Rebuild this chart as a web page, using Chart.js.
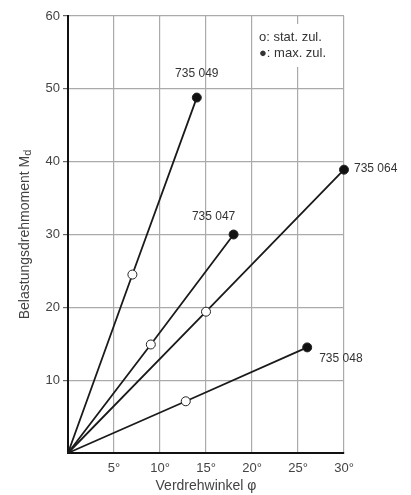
<!DOCTYPE html>
<html>
<head>
<meta charset="utf-8">
<script src="https://cdn.jsdelivr.net/npm/chart.js@4/dist/chart.umd.min.js"></script>
<style>
  html, body { margin: 0; padding: 0; background: #fff; }
  #wrap { width: 411px; height: 495px; }
</style>
</head>
<body>
<div id="wrap"><canvas id="chart" width="411" height="495"></canvas></div>
<script>
// torsion curves: line from origin through stat. (open) to max. (filled) point
const seriesNames = ['735 049', '735 047', '735 064', '735 048'];
const statX = [7, 9, 15, 12.8];
const statY = [24.5, 14.9, 19.4, 7.1];
const maxX = [14, 18, 30, 26];
const maxY = [48.8, 30, 38.9, 14.5];
const xTicks = [5, 10, 15, 20, 25, 30];
const yTicks = [10, 20, 30, 40, 50, 60];

// where each name sits relative to its max point (px)
const labelOffsets = [[0, -24, 'center'], [-20, -18, 'center'], [10, -1, 'left'], [12, 11, 'left']];

const FONT = "'Liberation Sans', Arial, sans-serif";
const NARROW = "'Liberation Sans Narrow', 'Liberation Sans', Arial, sans-serif";

const datasets = seriesNames.map((name, i) => ({
  label: name,
  data: [{ x: 0, y: 0 }, { x: statX[i], y: statY[i] }, { x: maxX[i], y: maxY[i] }],
  showLine: true,
  borderColor: '#1a1a1a',
  borderWidth: 1.8,
  pointRadius: ctx => ctx.dataIndex === 0 ? 0 : 4.5,
  pointBackgroundColor: ctx => ctx.dataIndex === 1 ? '#fff' : '#111',
  pointBorderColor: '#222',
  pointBorderWidth: 1,
  clip: false
}));

const extras = {
  id: 'extras',
  afterDatasetsDraw(chart) {
    const { ctx, scales: { x, y }, chartArea } = chart;
    ctx.save();

    // series names next to max points
    ctx.fillStyle = '#333';
    ctx.font = '12px ' + NARROW;
    ctx.textBaseline = 'middle';
    seriesNames.forEach((name, i) => {
      const o = labelOffsets[i];
      ctx.textAlign = o[2];
      ctx.fillText(name, x.getPixelForValue(maxX[i]) + o[0], y.getPixelForValue(maxY[i]) + o[1]);
    });

    // legend box
    ctx.fillStyle = '#fff';
    ctx.fillRect(258, 24, 80, 43);
    ctx.fillStyle = '#333';
    ctx.font = '13px ' + FONT;
    ctx.textAlign = 'left';
    ctx.fillText('o: stat. zul.', 259, 37);
    ctx.fillText('\u25CF: max. zul.', 259, 53);

    // y title with subscript
    ctx.translate(25, (chartArea.top + chartArea.bottom) / 2);
    ctx.rotate(-Math.PI / 2);
    ctx.fillStyle = '#444';
    ctx.font = '14px ' + FONT;
    const main = 'Belastungsdrehmoment M';
    const w = ctx.measureText(main).width;
    ctx.font = '11px ' + FONT;
    const ws = ctx.measureText('d').width;
    const start = -(w + ws) / 2;
    ctx.font = '14px ' + FONT;
    ctx.textBaseline = 'middle';
    ctx.fillText(main, start, 0);
    ctx.font = '11px ' + FONT;
    ctx.fillText('d', start + w, 3);
    ctx.restore();
  }
};

new Chart(document.getElementById('chart'), {
  type: 'scatter',
  data: { datasets },
  plugins: [extras],
  options: {
    responsive: false,
    animation: false,
    layout: { padding: { left: 0, top: 16, right: 67, bottom: 0 } },
    plugins: { legend: { display: false }, tooltip: { enabled: false } },
    scales: {
      x: {
        min: 0, max: 30,
        afterFit: s => { s.height = 42; },
        afterBuildTicks: s => { s.ticks = xTicks.map(v => ({ value: v })); },
        grid: { color: '#aaa', lineWidth: 1.2, drawTicks: false },
        border: { color: '#111', width: 2 },
        ticks: {
          color: '#444', padding: 8, font: { family: FONT, size: 13 },
          callback: v => v + '°'
        },
        title: { display: true, text: 'Verdrehwinkel φ', color: '#444', padding: 0, font: { family: FONT, size: 14 } }
      },
      y: {
        min: 0, max: 60,
        afterFit: s => { s.width = 68; },
        afterBuildTicks: s => { s.ticks = yTicks.map(v => ({ value: v })); },
        grid: { color: '#aaa', lineWidth: 1.2, tickLength: 5, tickColor: '#666' },
        border: { color: '#111', width: 2 },
        ticks: {
          color: '#444', padding: 3, font: { family: FONT, size: 13 }
        }
      }
    }
  }
});
</script>
</body>
</html>
